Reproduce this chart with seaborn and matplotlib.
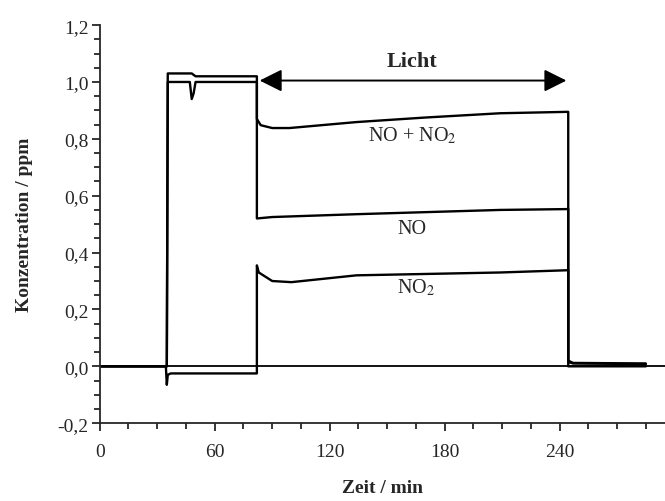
#!/usr/bin/env python3
# -*- coding: utf-8 -*-
"""
NO / NO2 concentration during a dark / light cycle.
"""
#%%
import pandas as pd
import seaborn as sns
import matplotlib.pyplot as plt
from matplotlib.ticker import MultipleLocator, FuncFormatter

sns.set_style("ticks")
plt.rcParams["font.family"] = ["Liberation Serif", "DejaVu Serif"]
plt.rcParams["axes.unicode_minus"] = False
plt.rcParams["mathtext.fontset"] = "stix"

#%%
# breakpoints (time in min, concentration in ppm)
t_nox = [0, 35, 35.5, 48, 50, 82, 82, 84, 90, 99, 134, 170, 209, 244.5, 244.5, 247, 285]
c_nox = [0.0, 0.0, 1.03, 1.03, 1.02, 1.02, 0.87, 0.848, 0.838, 0.838, 0.859, 0.875, 0.89, 0.895, 0.02, 0.012, 0.01]

t_no = [0, 35, 35.5, 47, 48, 49, 50, 82, 82, 90, 134, 209, 244.5, 244.5, 247, 285]
c_no = [0.0, 0.0, 1.0, 1.0, 0.94, 0.96, 1.0, 1.0, 0.52, 0.525, 0.535, 0.55, 0.553, 0.015, 0.01, 0.008]

t_no2 = [0, 34.5, 35, 35.5, 37, 82, 82, 83, 90, 100, 134, 209, 244.5, 244.5, 285]
c_no2 = [0.0, 0.0, -0.065, -0.03, -0.025, -0.025, 0.355, 0.33, 0.30, 0.296, 0.32, 0.33, 0.338, 0.0, 0.0]

series = ["NO + NO2", "NO", "NO2"]
light_on, light_off = 82, 245

#%%
sheet = pd.concat([
    pd.DataFrame({"zeit": t_nox, "konz": c_nox, "series": series[0]}),
    pd.DataFrame({"zeit": t_no, "konz": c_no, "series": series[1]}),
    pd.DataFrame({"zeit": t_no2, "konz": c_no2, "series": series[2]}),
], ignore_index=True)

fig = plt.figure(figsize=(6.65, 5.02), dpi=100, facecolor="white")
ax = fig.add_axes([0.150, 0.155, 0.850, 0.793])
ax.axhline(0, color="black", linewidth=1.3, zorder=1)
sns.lineplot(
    data=sheet, x="zeit", y="konz", hue="series", units="series",
    estimator=None, sort=False, palette=["black"] * 3,
    linewidth=1.7, legend=False, ax=ax,
)

ax.set_xlim(0, 295); ax.set_ylim(-0.2, 1.2)
ax.xaxis.set_major_locator(MultipleLocator(60))
ax.xaxis.set_minor_locator(MultipleLocator(15))
ax.yaxis.set_major_locator(MultipleLocator(0.2))
ax.yaxis.set_minor_locator(MultipleLocator(0.05))
ax.yaxis.set_major_formatter(FuncFormatter(lambda v, p: f"{v:.1f}".replace(".", ",")))
ax.tick_params(which="major", length=6, width=1.3, labelsize=14, direction="out")
ax.tick_params(which="minor", length=4, width=1.3, direction="out")
ax.tick_params(axis="x", which="major", pad=8)
ax.tick_params(axis="y", which="major", pad=2)
sns.despine(ax=ax)
for s in ["left", "bottom"]:
    ax.spines[s].set_linewidth(1.3)

ax.set_xlabel("Zeit / min", fontsize=14, fontweight="bold", labelpad=14)
ax.set_ylabel("Konzentration / ppm", fontsize=14, fontweight="bold", labelpad=18)

# light period arrow and labels
ax.annotate("", xy=(light_off, 1.005), xytext=(light_on, 1.005),
            arrowprops=dict(arrowstyle="<|-|>", color="black", lw=1.4, mutation_scale=34))
ax.text(163, 1.075, "Licht", ha="center", va="center", fontsize=16, fontweight="bold")
ax.text(163, 0.815, "NO + NO$_2$", ha="center", va="center", fontsize=14.5)
ax.text(163, 0.484, "NO", ha="center", va="center", fontsize=14.5)
ax.text(165, 0.28, "NO$_2$", ha="center", va="center", fontsize=14.5)

plt.savefig("out.png")
plt.close()
